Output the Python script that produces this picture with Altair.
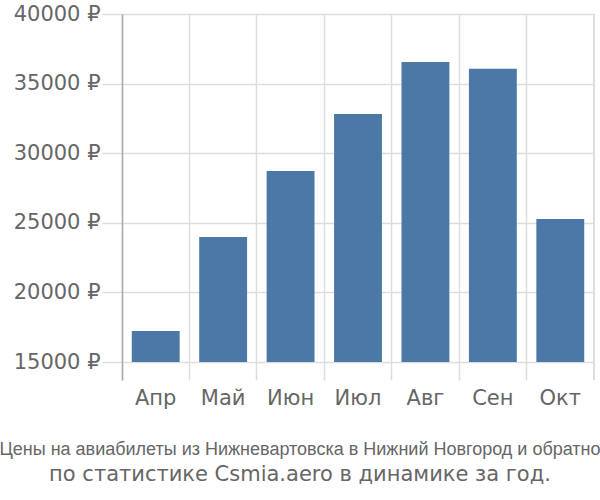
import altair as alt
import pandas as pd

months = ["Апр", "Май", "Июн", "Июл", "Авг", "Сен", "Окт"]
prices = [17230, 23980, 28720, 32820, 36550, 36070, 25270]
y_ticks = [15000, 20000, 25000, 30000, 35000, 40000]
title_line1 = "Цены на авиабилеты из Нижневартовска в Нижний Новгород и обратно"
title_line2 = "по статистике Csmia.aero в динамике за год."

df = pd.DataFrame({"month": months, "price": prices})

W, H = 472, 366
GRID = "#dddddd"
TEXT = "#666666"
FONT = "DejaVu Sans"

base = alt.Chart(df)

bars = base.mark_bar(color="#4c78a8", width=alt.RelativeBandSize(0.71)).encode(
    x=alt.X(
        "month:N",
        sort=months,
        scale=alt.Scale(paddingInner=0, paddingOuter=0),
        axis=alt.Axis(
            title=None,
            labelAngle=0,
            labelFontSize=21,
            labelColor=TEXT,
            labelFont=FONT,
            labelPadding=7,
            ticks=False,
            domain=False,
            grid=True,
            gridColor=GRID,
            gridWidth=1.5,
            bandPosition=0,
        ),
    ),
    y=alt.Y(
        "price:Q",
        scale=alt.Scale(domain=[13707, 40000], nice=False, zero=False),
        axis=alt.Axis(
            title=None,
            values=y_ticks,
            labelExpr="datum.value + ' ₽'",
            labelFontSize=21,
            labelColor=TEXT,
            labelFont=FONT,
            labelPadding=2,
            tickSize=20,
            tickColor=GRID,
            tickWidth=1.5,
            gridColor=GRID,
            gridWidth=1.5,
            domainColor="#aaaaaa",
            domainWidth=1.5,
        ),
    ),
    y2=alt.Y2(datum=15000),
)

right_edge = base.mark_rule(color=GRID, strokeWidth=1.5).encode(
    x=alt.value(W), y=alt.value(0), y2=alt.value(H)
)

chart = (
    alt.layer(bars, right_edge)
    .properties(
        width=W,
        height=H,
        autosize=alt.AutoSizeParams(type="none"),
        padding={"left": 122, "top": 14, "right": 6, "bottom": 120},
        title=alt.TitleParams(
            text=title_line1,
            subtitle=title_line2,
            orient="bottom",
            anchor="middle",
            dx=-58,
            offset=33,
            font="Liberation Sans",
            fontSize=18,
            fontWeight="normal",
            color=TEXT,
            subtitleFont=FONT,
            subtitleFontSize=21,
            subtitleColor=TEXT,
            subtitlePadding=5,
        ),
    )
    .configure_view(stroke=None)
)

chart.save("out.html", embed_options={"renderer": "svg", "actions": False})
